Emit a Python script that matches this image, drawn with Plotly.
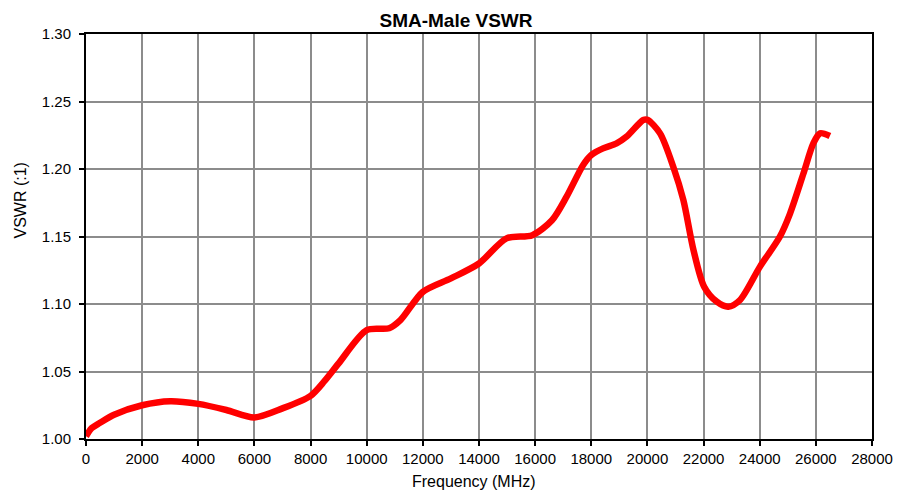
import plotly.graph_objects as go

freq_mhz = [0, 200, 500, 1000, 2000, 3000, 4000, 5000, 6000, 7000, 8000, 8500, 9000,
            10000, 10800, 11200, 12000, 13000, 14000, 14980, 15900, 16600, 17120, 17710,
            18000, 18420, 18900, 19260, 19850, 20000, 20450, 20920, 21280, 21640, 22020,
            22470, 22880, 23300, 24010, 24720, 25080, 25560, 25910, 26150, 26500]
vswr = [1.002, 1.008, 1.012, 1.018, 1.025, 1.028, 1.026, 1.0215, 1.016, 1.0227, 1.032, 1.043, 1.056,
        1.0807, 1.082, 1.088, 1.109, 1.119, 1.130, 1.1486, 1.151, 1.162, 1.1795, 1.203,
        1.2104, 1.2153, 1.219, 1.224, 1.2363, 1.2365, 1.2264, 1.2017, 1.177, 1.140, 1.1128,
        1.1017, 1.098, 1.103, 1.1277, 1.150, 1.167, 1.1968, 1.219, 1.2264, 1.2244]

x_ticks = list(range(0, 28001, 2000))
y_ticks = [1.00, 1.05, 1.10, 1.15, 1.20, 1.25, 1.30]
title_text = "SMA-Male VSWR"
x_title = "Frequency (MHz)"
y_title = "VSWR (:1)"

fig = go.Figure()
fig.add_trace(go.Scatter(
    x=freq_mhz, y=vswr, mode="lines",
    line=dict(color="#ff0000", width=6.5, shape="spline", smoothing=0.8),
    showlegend=False, hoverinfo="skip"))

font = "Liberation Sans, Arial, sans-serif"
fig.update_layout(
    width=897, height=496,
    margin=dict(l=86, r=25, t=34, b=57, autoexpand=False),
    paper_bgcolor="white", plot_bgcolor="white",
    font=dict(family=font, size=15, color="black"),
    title=dict(text=f"<b>{title_text}</b>", x=456 / 897, xanchor="center",
               y=1 - 20 / 496, yanchor="middle", font=dict(size=19, family=font)),
    annotations=[
        dict(text=x_title, xref="paper", yref="paper", x=(473.7 - 86) / 786,
             y=(439 - 481.5) / 405, xanchor="center", yanchor="middle",
             showarrow=False, font=dict(size=16, family=font)),
        dict(text=y_title, xref="paper", yref="paper", x=(19.5 - 86) / 786,
             y=(439 - 201) / 405, xanchor="center", yanchor="middle", textangle=-90,
             showarrow=False, font=dict(size=16, family=font)),
    ],
)
fig.update_xaxes(
    range=[0, 28000], tickvals=x_ticks, ticktext=[str(v) for v in x_ticks],
    showgrid=True, gridcolor="#8c8c8c", gridwidth=2,
    showline=True, linecolor="black", linewidth=2, mirror=True,
    ticks="outside", ticklen=5, tickwidth=2, tickcolor="black",
    zeroline=False, tickfont=dict(size=15),
)
fig.update_yaxes(
    range=[1.0, 1.3], tickvals=y_ticks, ticktext=[f"{v:.2f}" for v in y_ticks],
    showgrid=True, gridcolor="#8c8c8c", gridwidth=2,
    showline=True, linecolor="black", linewidth=2, mirror=True,
    ticks="outside", ticklen=5, tickwidth=2, tickcolor="black",
    zeroline=False, tickfont=dict(size=15), ticklabelstandoff=5,
)

fig.write_html("out.html", config={"displayModeBar": False},
               post_script="document.body.style.margin='0';")
